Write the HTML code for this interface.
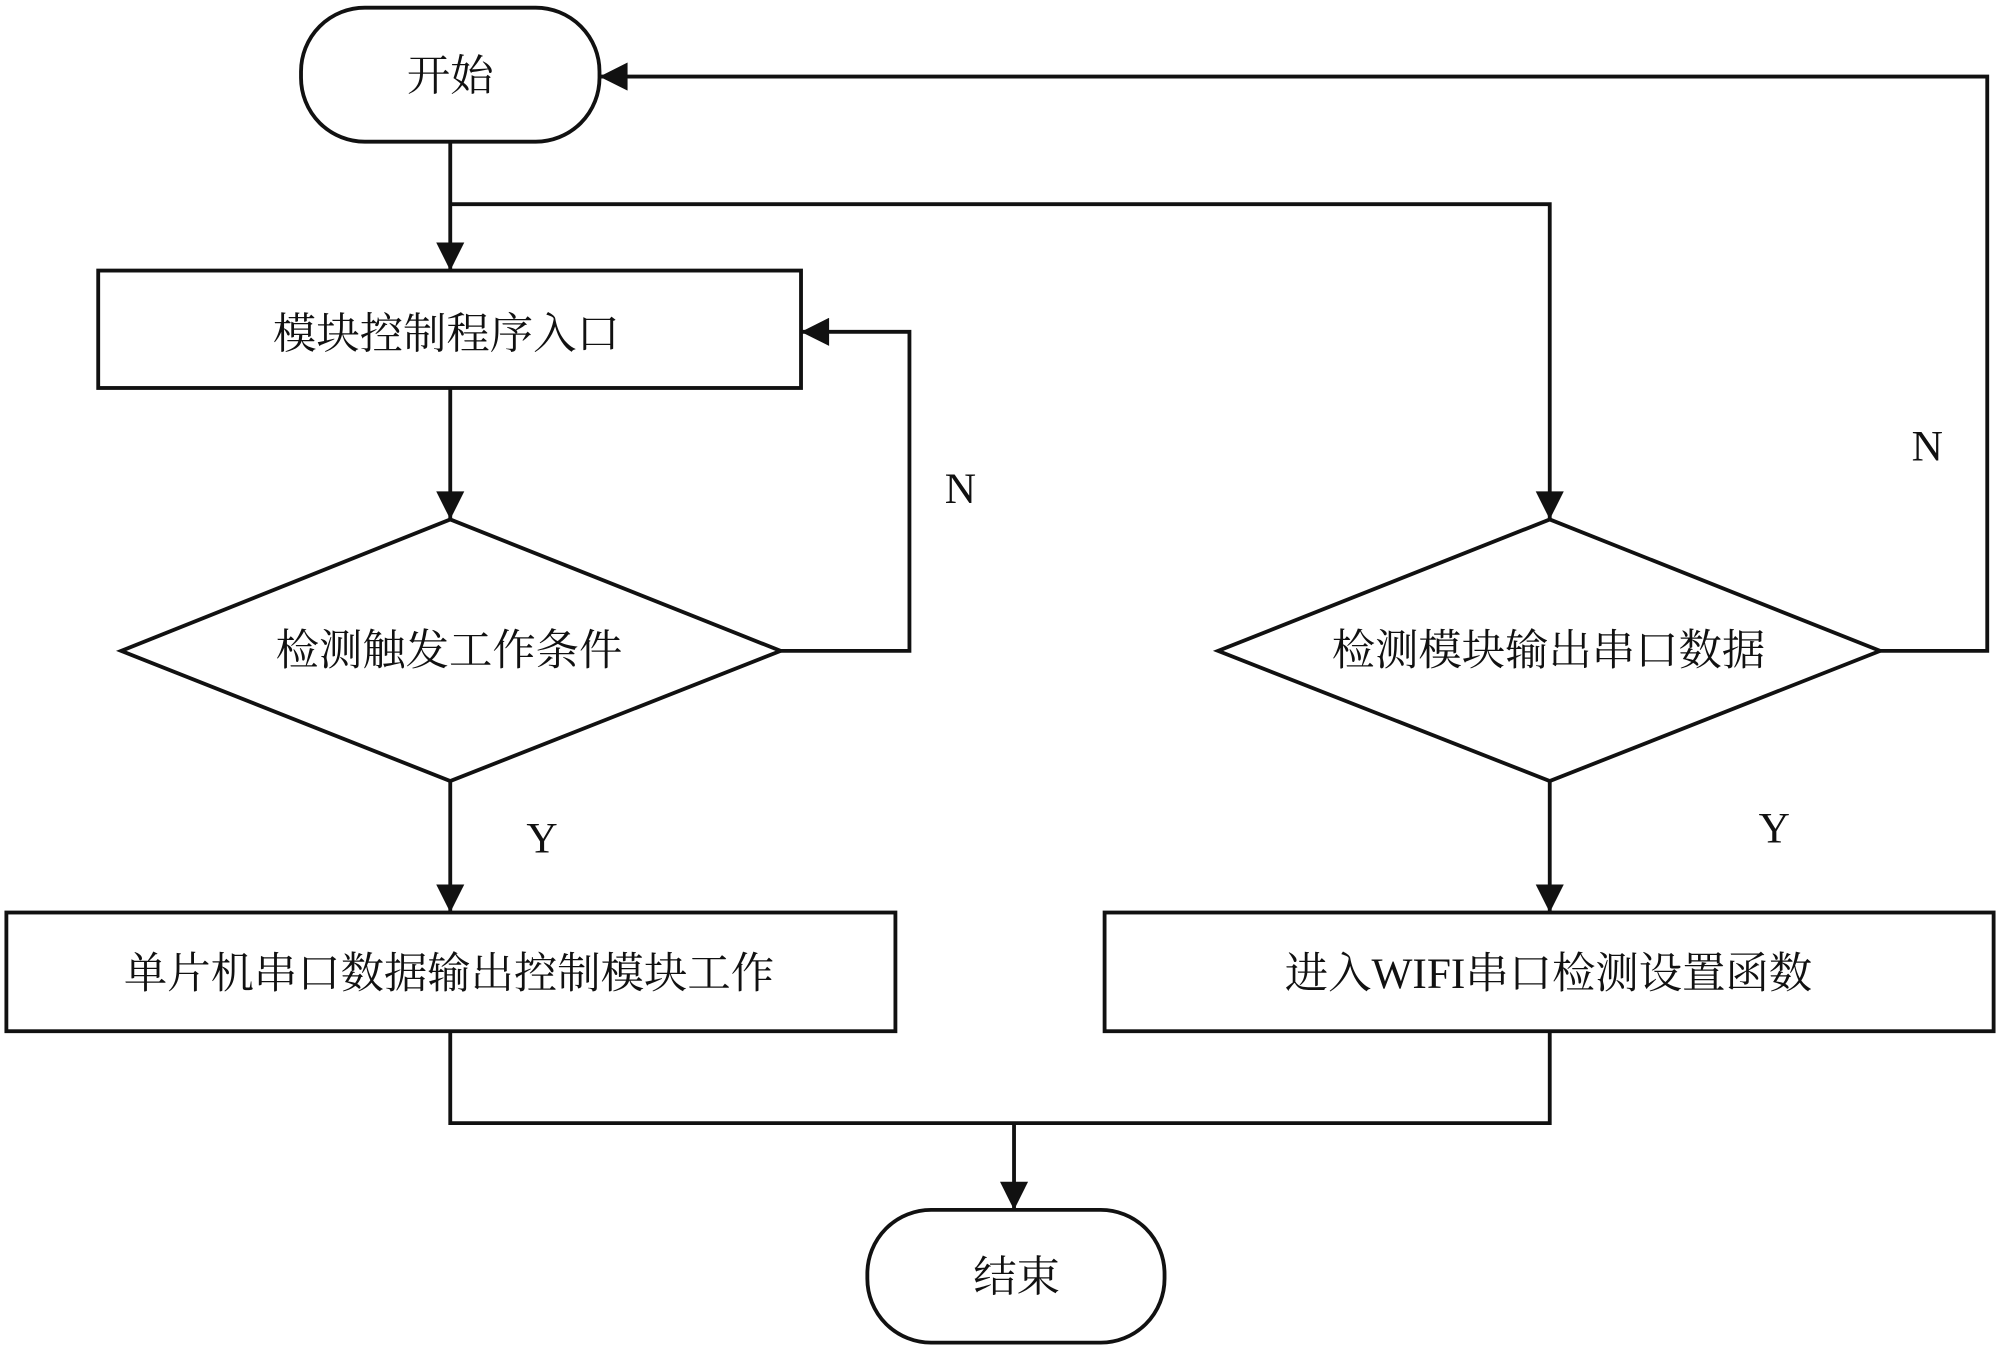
<!DOCTYPE html>
<html><head><meta charset="utf-8"><style>html,body{margin:0;padding:0;background:#fff}svg{display:block}</style></head>
<body>
<svg width="2000" height="1349" viewBox="0 0 1568 1057" preserveAspectRatio="none" xmlns="http://www.w3.org/2000/svg">
<defs>
<marker id="b" viewBox="0 0 10 10" refX="10" refY="5" markerWidth="36" markerHeight="22" markerUnits="userSpaceOnUse" orient="auto"><path d="M0,0 L10,5 L0,10 z" fill="#111"/></marker></defs>
<g fill="none" stroke="#111" stroke-width="3">
<rect x="236" y="6" width="234" height="105" rx="50"/>
<rect x="77" y="212" width="551" height="92"/>
<polygon points="353,407 612,510 353,612 95,510"/>
<rect x="5" y="715" width="697" height="93"/>
<polygon points="1215,407 1474,510 1215,612 955,510"/>
<rect x="866" y="715" width="697" height="93"/>
<rect x="680" y="948" width="233" height="104" rx="50"/>
<g marker-end="url(#b)">
<line x1="353" y1="111" x2="353" y2="212"/>
<polyline points="353,160 1215,160 1215,407"/>
<line x1="353" y1="304" x2="353" y2="407"/>
<polyline points="612,510 713,510 713,260 628,260"/>
<line x1="353" y1="612" x2="353" y2="715"/>
<line x1="1215" y1="612" x2="1215" y2="715"/>
<polyline points="1474,510 1558,510 1558,60 470,60"/>
<line x1="795" y1="880" x2="795" y2="948"/>
</g>
<polyline points="353,808 353,880 1215,880 1215,808"/>
</g>
<g font-family="Liberation Serif, Noto Serif CJK SC, serif" font-size="34" fill="#111" text-anchor="middle" dominant-baseline="central">
<text x="353" y="60">开始</text>
<text x="350" y="262">模块控制程序入口</text>
<text x="352" y="510">检测触发工作条件</text>
<text x="352" y="763">单片机串口数据输出控制模块工作</text>
<text x="1214" y="510">检测模块输出串口数据</text>
<text x="1214" y="763">进入WIFI串口检测设置函数</text>
<text x="797" y="1001">结束</text>
<text x="753" y="383">N</text>
<text x="1511" y="350">N</text>
<text x="425" y="657">Y</text>
<text x="1391" y="649">Y</text>
</g>
</svg>
</body></html>
